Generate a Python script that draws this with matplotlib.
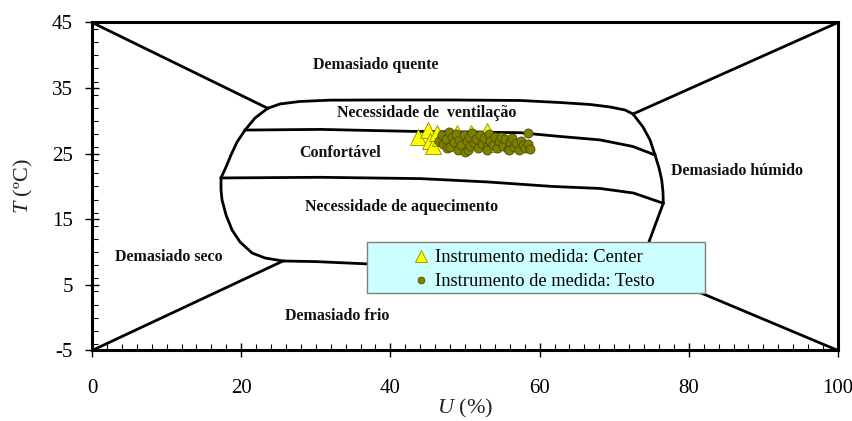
import matplotlib
matplotlib.use("Agg")

import matplotlib.pyplot as plt
from matplotlib.patches import Rectangle
from matplotlib.ticker import MultipleLocator


# diagram boundaries (U %, T degC)
TOP_LEFT_DIAG_U = [0.0, 23.55]
TOP_LEFT_DIAG_T = [45.0, 31.92]

TOP_RIGHT_DIAG_U = [100.0, 72.52]
TOP_RIGHT_DIAG_T = [45.0, 31.05]

BOTTOM_LEFT_DIAG_U = [0.0, 25.6]
BOTTOM_LEFT_DIAG_T = [-5.0, 8.64]

BOTTOM_RIGHT_DIAG_U = [100.0, 73.4]
BOTTOM_RIGHT_DIAG_T = [-5.0, 7.7]

# outline of the central zone, clockwise from the top-left corner
ZONE_U = [23.55, 25.2, 27.88, 31.9, 39.28, 47.99, 57.37, 62.73, 66.76,
          69.44, 71.45, 72.52, 73.86, 74.8, 75.47, 76.01, 76.37, 76.54,
          76.58, 73.4, 36.9, 30.0, 25.6, 23.19, 21.45, 19.84, 18.77,
          17.96, 17.43, 17.29, 17.29, 17.96, 18.63, 19.44, 20.51, 21.85,
          23.55]
ZONE_T = [31.92, 32.58, 32.96, 33.16, 33.19, 33.19, 33.11, 32.8, 32.5,
          32.12, 31.66, 31.05, 29.07, 27.09, 24.8, 22.82, 20.99, 19.16,
          17.44, 7.7, 8.2, 8.55, 8.64, 9.1, 9.86, 11.54, 13.37,
          15.66, 17.94, 19.47, 21.3, 22.97, 24.8, 26.78, 28.6, 30.44,
          31.92]

VENT_LINE_U = [20.51, 30.6, 43.0, 57.4, 62.0, 68.1, 72.5, 75.47]
VENT_LINE_T = [28.6, 28.7, 28.4, 28.2, 27.7, 27.1, 26.1, 24.8]

HEAT_LINE_U = [17.29, 30.6, 44.0, 52.9, 61.8, 68.1, 72.6, 76.58]
HEAT_LINE_T = [21.3, 21.4, 21.2, 20.7, 20.0, 19.7, 19.0, 17.44]

# measurements
CENTER_U = [43.7, 45.1, 45.3, 45.7, 46.2, 46.6, 48.9, 50.8, 53.0, 53.6]
CENTER_T = [27.6, 28.6, 27.0, 26.1, 28.2, 27.4, 28.2, 28.2, 28.4, 26.4]

TESTO_U = [46.5, 46.9, 47.1, 47.4, 47.6, 47.8, 48.0, 48.2, 48.5, 48.8,
           49.0, 49.2, 49.5, 49.8, 50.0, 50.2, 50.4, 50.5, 50.7, 51.0,
           51.2, 51.5, 51.8, 52.0, 52.3, 52.6, 52.9, 53.0, 53.2, 53.4,
           53.7, 54.0, 54.3, 54.5, 54.8, 55.1, 55.4, 55.7, 55.9, 56.0,
           56.3, 56.6, 56.9, 57.2, 57.5, 57.8, 58.1, 58.4, 58.5, 58.7]
TESTO_T = [27.0, 27.9, 26.4, 27.2, 25.9, 28.3, 26.0, 27.5, 26.8, 28.0,
           25.6, 27.1, 26.3, 27.8, 25.2, 26.9, 25.5, 27.6, 26.1, 28.1,
           26.6, 27.3, 25.9, 27.9, 26.5, 27.4, 26.0, 25.6, 28.0, 27.0,
           26.3, 27.6, 25.8, 26.9, 27.5, 26.2, 27.2, 25.7, 25.5, 26.8,
           27.4, 26.0, 26.6, 25.6, 27.0, 26.3, 25.9, 28.1, 26.5, 25.7]

ZONE_LABELS = [
    ("Demasiado quente", 38.0, 38.5),
    ("Necessidade de  ventilação", 44.8, 31.2),
    ("Confortável", 33.2, 25.1),
    ("Necessidade de aquecimento", 41.5, 16.8),
    ("Demasiado húmido", 86.4, 22.3),
    ("Demasiado seco", 10.3, 9.3),
    ("Demasiado frio", 32.8, 0.2),
]

X_TICKS = [0, 20, 40, 60, 80, 100]
Y_TICKS = [-5, 5, 15, 25, 35, 45]


plt.rcParams["font.family"] = ["Liberation Serif", "DejaVu Serif"]
plt.rcParams["mathtext.fontset"] = "custom"
plt.rcParams["mathtext.rm"] = "Liberation Serif"
plt.rcParams["mathtext.it"] = "Liberation Serif:italic"
plt.rcParams["axes.unicode_minus"] = False

fig = plt.figure(figsize=(8.53, 4.21), dpi=100, facecolor="white")
ax = fig.add_axes([0.1079, 0.1675, 0.8745, 0.7791])

lw = 2.0
for u, t in [
    (TOP_LEFT_DIAG_U, TOP_LEFT_DIAG_T),
    (TOP_RIGHT_DIAG_U, TOP_RIGHT_DIAG_T),
    (BOTTOM_LEFT_DIAG_U, BOTTOM_LEFT_DIAG_T),
    (BOTTOM_RIGHT_DIAG_U, BOTTOM_RIGHT_DIAG_T),
    (ZONE_U, ZONE_T),
    (VENT_LINE_U, VENT_LINE_T),
    (HEAT_LINE_U, HEAT_LINE_T),
]:
    ax.plot(u, t, color="black", linewidth=lw, solid_joinstyle="round",
            zorder=2)

for label, u, t in ZONE_LABELS:
    ax.text(u, t, label, fontsize=11.5, fontweight="bold",
            ha="center", va="center", color="#111111", zorder=3)

ax.plot(CENTER_U, CENTER_T, linestyle="none", marker="^", markersize=11,
        markerfacecolor="#ffff00", markeredgecolor="#8c8c00",
        markeredgewidth=0.6, label="Instrumento medida: Center", zorder=4)
ax.plot(TESTO_U, TESTO_T, linestyle="none", marker="o", markersize=6.5,
        markerfacecolor="#808000", markeredgecolor="#4d4d00",
        markeredgewidth=0.6, label="Instrumento de medida: Testo", zorder=4)

# legend box
box = Rectangle((0.3686, 0.1753), 0.4531, 0.1555, transform=ax.transAxes,
                facecolor="#ccffff", edgecolor="#7f7f7f", linewidth=1.0,
                zorder=4.5)
ax.add_patch(box)
leg = ax.legend(loc="center", bbox_to_anchor=(0.592, 0.2460),
                frameon=False, fontsize=13.3, handlelength=0.9,
                handletextpad=0.3, labelspacing=0.4, borderpad=0.2,
                markerscale=0.75)
leg.set_zorder(5)

ax.set_xlim(0, 100)
ax.set_ylim(-5, 45)
ax.set_xticks(X_TICKS)
ax.set_yticks(Y_TICKS)
ax.xaxis.set_minor_locator(MultipleLocator(2))
ax.yaxis.set_minor_locator(MultipleLocator(2))
ax.tick_params(which="major", direction="inout", length=9.5, width=1.0,
               labelsize=15)
ax.tick_params(axis="x", which="major", pad=16)
ax.tick_params(axis="y", which="major", pad=9)
ax.tick_params(which="minor", direction="in", length=4, width=0.8)

for sp in ax.spines.values():
    sp.set_linewidth(2.2)

ax.set_xlabel(r"$U$ (%)", fontsize=16, labelpad=-1, color="#222222")
ax.set_ylabel(r"$T$ (ºC)", fontsize=16, labelpad=12, color="#222222")

fig.savefig("out.png", dpi=100)
plt.close(fig)
